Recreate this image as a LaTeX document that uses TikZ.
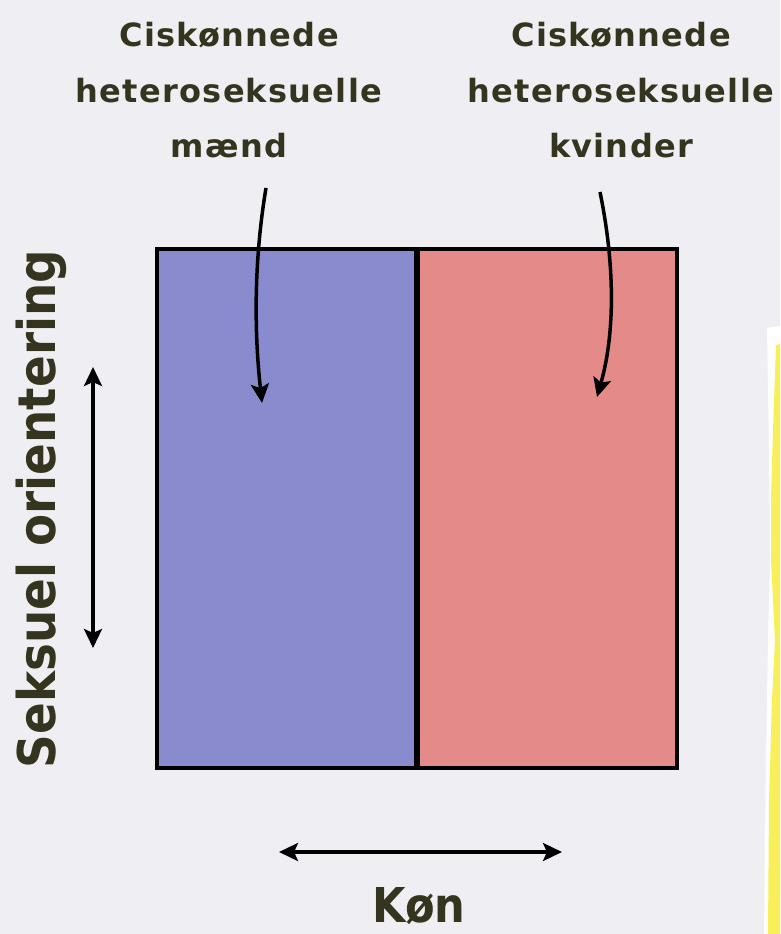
\documentclass[tikz,border=0pt]{standalone}
\usepackage{fontspec}
\usetikzlibrary{arrows.meta}
\newfontfamily\lblfont[LetterSpace=4]{DejaVu Sans}
\newfontfamily\bigfont[FakeStretch=0.9]{DejaVu Sans}
\definecolor{bg}{HTML}{EFEFF3}
\definecolor{txt}{HTML}{35351F}
\definecolor{boxblue}{HTML}{8A8ACF}
\definecolor{boxred}{HTML}{E48B89}
\definecolor{hl}{HTML}{F8EF5A}
\tikzset{
  lbl/.style={text=txt, font=\lblfont\bfseries\fontsize{32}{55.5}\selectfont, align=center, inner sep=0pt},
  bigl/.style={text=txt, font=\bigfont\bfseries\fontsize{52}{60}\selectfont, inner sep=0pt},
  konl/.style={text=txt, font=\bigfont\bfseries\fontsize{48}{56}\selectfont, inner sep=0pt},
  region/.style={draw=black, line width=4pt, minimum width=259pt, minimum height=519pt, inner sep=0pt},
  conn/.style={line width=3.5pt, -{Stealth[length=19pt,width=18pt,inset=4pt]}},
  axis/.style={line width=3.5pt, {Stealth[length=19pt,width=18pt,inset=4pt]}-{Stealth[length=19pt,width=18pt,inset=4pt]}}
}
\begin{document}
\begin{tikzpicture}[x=1pt,y=-1pt]
\fill[bg] (0,0) rectangle (780,934);
\useasboundingbox (0,0) rectangle (780,934);
% yellow strip
\fill[white] (767,328) -- (780,326) -- (780,934) -- (764,934) -- (766,760) -- (768,640) -- (770,560) -- (769,450) -- cycle;
\fill[hl] (776,345) -- (780,344) -- (780,934) -- (768,934) -- (769,800) -- (772,700) -- (775,640) -- (773,600) -- (771,560) -- (771,500) -- (773,430) -- cycle;
% boxes
\node[region, fill=boxblue] (men) at (286.5,508.5) {};
\node[region, fill=boxred] (women) at (547.5,508.5) {};
% labels
\node[lbl] (lmen) at (229,90.5) {Ciskønnede\\heteroseksuelle\\mænd};
\node[lbl] (lwomen) at (621,90.5) {Ciskønnede\\heteroseksuelle\\kvinder};
\coordinate (mtip) at (262,403);
\coordinate (wtip) at (597,397);
\coordinate (ms) at (266,188);
\coordinate (ws) at (600,192);
\draw[conn] (ms) .. controls (254,260) and (254,330) .. (mtip);
\draw[conn] (ws) .. controls (614,260) and (616,330) .. (wtip);
% axes
\coordinate (vt) at (93,367);
\coordinate (vb) at (93,648);
\draw[axis] (vt) -- (vb);
\coordinate (hl) at (279,852);
\coordinate (hr) at (562,852);
\draw[axis] (hl) -- (hr);
\node[bigl, rotate=90, anchor=base] (so) at (55,509) {Seksuel orientering};
\node[konl, anchor=base] (kon) at (419,922) {Køn};
\end{tikzpicture}
\end{document}
